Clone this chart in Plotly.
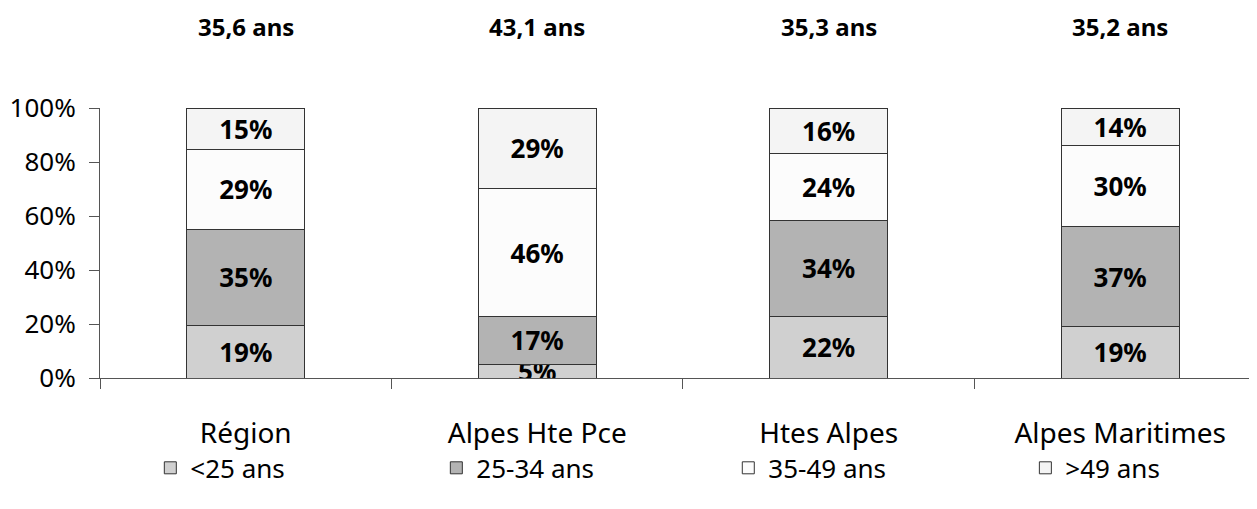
import plotly.graph_objects as go

categories = ["Région", "Alpes Hte Pce", "Htes Alpes", "Alpes Maritimes"]
mean_age = [35.6, 43.1, 35.3, 35.2]

series_names = ["<25 ans", "25-34 ans", "35-49 ans", ">49 ans"]
under25 = [19, 5, 22, 19]
age25_34 = [35, 17, 34, 37]
age35_49 = [29, 46, 24, 30]
over49 = [15, 29, 16, 14]
series_values = [under25, age25_34, age35_49, over49]
colors = ["#d0d0d0", "#b3b3b3", "#fcfcfc", "#f4f4f4"]

y_ticks = [0, 20, 40, 60, 80, 100]

FONT = "Noto Sans"
legend_ids = ["legend", "legend2", "legend3", "legend4"]
legend_x = [0.0432, 0.2887, 0.5393, 0.7943]

fig = go.Figure()
for name, vals, col, lid in zip(series_names, series_values, colors, legend_ids):
    fig.add_trace(go.Bar(
        name=name, x=categories, y=vals,
        text=[f"{v}%" for v in vals],
        textposition="inside", insidetextanchor="middle", textangle=0,
        textfont=dict(family=FONT, size=26, color="#000000", weight="bold"),
        marker=dict(color=col, line=dict(color="#333333", width=1)),
        width=0.405, legend=lid,
    ))

for cat, age in zip(categories, mean_age):
    fig.add_annotation(
        x=cat, y=1.30, xref="x", yref="paper",
        text=f"{age:.1f}".replace(".", ",") + " ans",
        showarrow=False, yanchor="middle",
        font=dict(family=FONT, size=24, color="#000000", weight="bold"),
    )

legend_common = dict(
    orientation="h", xanchor="left", y=-0.333, yanchor="middle",
    font=dict(family=FONT, size=26, color="#000000"),
    bgcolor="rgba(0,0,0,0)",
)
layout_legends = {lid: dict(x=lx, **legend_common) for lid, lx in zip(legend_ids, legend_x)}

fig.update_layout(
    barmode="stack", barnorm="percent",
    width=1257, height=509,
    margin=dict(l=92, r=0, t=100, b=139, autoexpand=False),
    paper_bgcolor="white", plot_bgcolor="white",
    font=dict(family=FONT, size=26, color="#000000"),
    uniformtext=dict(minsize=26, mode="show"),
    showlegend=True,
    **layout_legends,
)
fig.update_xaxes(
    range=[-0.5, 3.497], showline=True, linecolor="#555555", linewidth=1,
    ticks="outside", tickson="boundaries", ticklen=10, tickcolor="#555555",
    tickfont=dict(family=FONT, size=28), ticklabelstandoff=30, showgrid=False,
    automargin=False,
)
fig.update_yaxes(
    range=[0, 100], tickmode="array", tickvals=y_ticks,
    ticktext=[f"{t}%" for t in y_ticks],
    showline=True, linecolor="#555555", linewidth=1,
    ticks="outside", ticklen=10, tickcolor="#555555",
    tickfont=dict(family=FONT, size=26), ticklabelstandoff=8,
    showgrid=False, zeroline=False, automargin=False,
)

fig.write_html("out.html")
